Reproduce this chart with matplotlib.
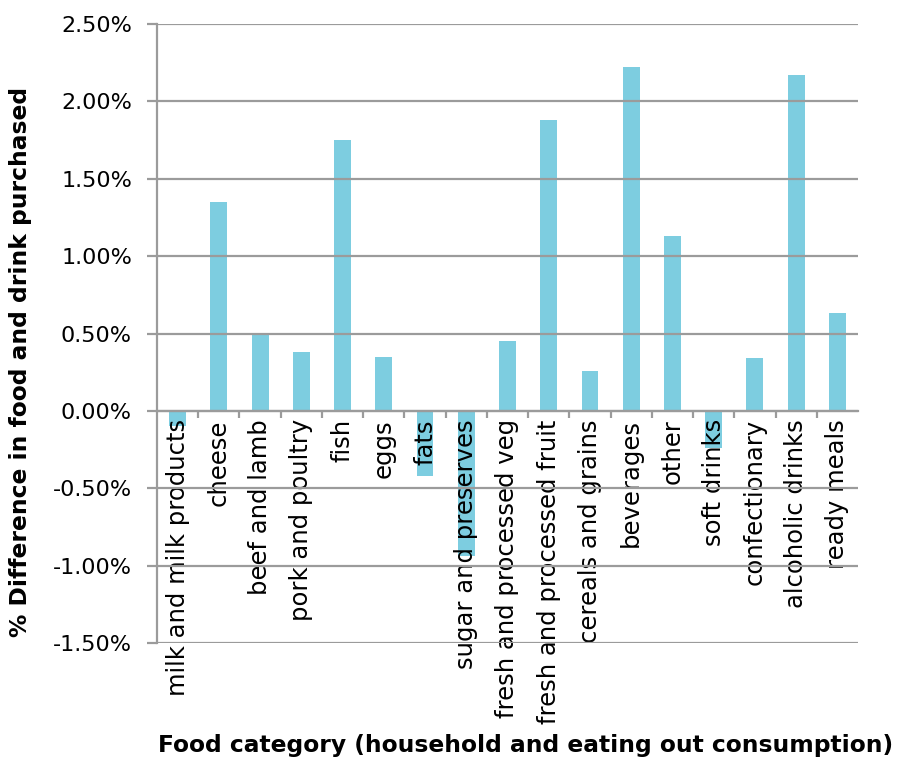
import numpy as np
import matplotlib
matplotlib.use("Agg")
import matplotlib.pyplot as plt
from matplotlib.ticker import FuncFormatter, MultipleLocator, FixedLocator

plt.rcParams['font.family'] = ['DejaVu Sans']

categories = ["milk and milk products", "cheese", "beef and lamb", "pork and poultry",
              "fish", "eggs", "fats", "sugar and preserves", "fresh and processed veg",
              "fresh and processed fruit", "cereals and grains", "beverages", "other",
              "soft drinks", "confectionary", "alcoholic drinks", "ready meals"]
pct_diff = [-0.10, 1.35, 0.49, 0.38, 1.75, 0.35, -0.42, -0.94, 0.45,
            1.88, 0.26, 2.22, 1.13, -0.24, 0.34, 2.17, 0.63]

bar_col = '#7dcde0'
grid_col = '#9b9b9b'

fig = plt.figure(figsize=(8.99, 7.58), dpi=100)
ax = fig.add_axes([0.1746, 0.1517, 0.7798, 0.8166])

x = np.arange(len(categories))
# bars sit under the grid, ticks and labels
ax.set_axisbelow(False)
ax.bar(x, pct_diff, width=0.41, color=bar_col, zorder=0.5)

ax.set_xlim(-0.5, len(categories) - 0.5)
ax.set_ylim(-1.5, 2.5)
ax.yaxis.set_major_locator(MultipleLocator(0.5))
ax.yaxis.set_major_formatter(FuncFormatter(lambda v, p: f"{v:.2f}%"))
ax.grid(axis='y', color=grid_col, linewidth=1.6)

# category labels hang from the zero line, boundaries get small ticks
ax.spines['bottom'].set_position(('data', 0))
ax.spines['bottom'].set_color(grid_col)
ax.spines['bottom'].set_linewidth(1.6)
ax.spines['left'].set_color(grid_col)
ax.spines['left'].set_linewidth(1.6)
ax.spines['top'].set_visible(False)
ax.spines['right'].set_visible(False)

ax.set_xticks(x)
ax.set_xticklabels(categories, rotation=90, fontsize=17.5, va='top')
ax.xaxis.set_minor_locator(FixedLocator(np.arange(0.5, len(categories) - 1, 1.0)))
ax.tick_params(axis='x', which='major', length=0, pad=6)
ax.tick_params(axis='x', which='minor', length=5, width=1.6, color=grid_col, direction='out')

ax.tick_params(axis='y', length=7, width=1.6, color=grid_col, labelsize=16, pad=11)

ax.set_ylabel("% Difference in food and drink purchased", fontsize=16.8, fontweight='bold')
ax.yaxis.set_label_coords(-0.178, 0.454)
fig.text(0.585, 0.016, "Food category (household and eating out consumption)",
         fontsize=16.8, fontweight='bold', ha='center', va='center')

fig.savefig("out.png", dpi=100)
